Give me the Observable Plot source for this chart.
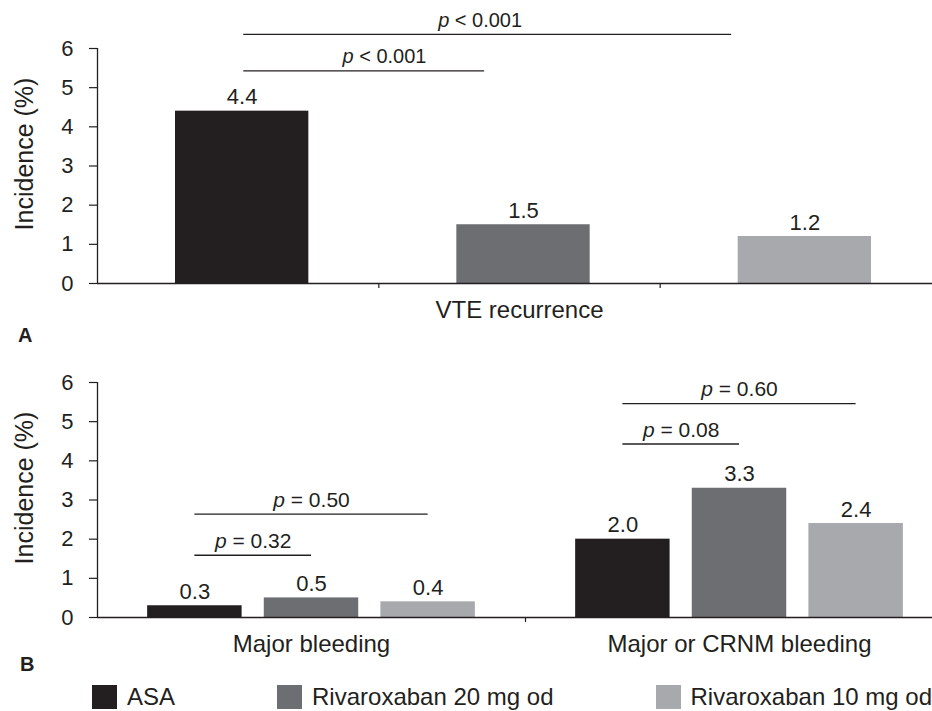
<!DOCTYPE html>
<html>
<head>
<meta charset="utf-8">
<script src="https://cdn.jsdelivr.net/npm/d3@7"></script>
<script src="https://cdn.jsdelivr.net/npm/@observablehq/plot@0.6"></script>
<style>
  html, body { margin: 0; padding: 0; background: #fff; }
  body { font-family: "Liberation Sans", Arial, Helvetica, sans-serif; color: #231f20; }
  #wrap { position: relative; width: 932px; height: 711px; overflow: hidden; }
  .panel { position: absolute; left: 0; }
  .tag { position: absolute; font-weight: bold; font-size: 20px; line-height: 20px; }
  #legend { position: absolute; top: 685px; left: 92px; display: flex; align-items: center; font-size: 24px; line-height: 24px; white-space: nowrap; }
  #legend .item { display: flex; align-items: center; margin-right: 102px; }
  #legend .sw { width: 25px; height: 24px; margin-right: 10px; }
</style>
</head>
<body>
<div id="wrap"></div>
<script>
// ---------- data ----------
const series = ["ASA", "Rivaroxaban 20 mg od", "Rivaroxaban 10 mg od"];
const seriesColors = ["#231f20", "#6d6e71", "#a7a9ac"];

const panelACategory = "VTE recurrence";
const panelAValues = [4.4, 1.5, 1.2];

const panelBCategories = ["Major bleeding", "Major or CRNM bleeding"];
const panelBAsa = [0.3, 2.0];
const panelBRiva20 = [0.5, 3.3];
const panelBRiva10 = [0.4, 2.4];

const yTicks = [0, 1, 2, 3, 4, 5, 6];
const yLabel = "Incidence (%)";

const pValuesA = [
  {from: "ASA", to: "Rivaroxaban 20 mg od", label: "p < 0.001"},
  {from: "ASA", to: "Rivaroxaban 10 mg od", label: "p < 0.001"}
];
const pValuesB = [
  {group: "Major bleeding", from: "ASA", to: "Rivaroxaban 20 mg od", label: "p = 0.32"},
  {group: "Major bleeding", from: "ASA", to: "Rivaroxaban 10 mg od", label: "p = 0.50"},
  {group: "Major or CRNM bleeding", from: "ASA", to: "Rivaroxaban 20 mg od", label: "p = 0.08"},
  {group: "Major or CRNM bleeding", from: "ASA", to: "Rivaroxaban 10 mg od", label: "p = 0.60"}
];

// ---------- annotation layout (not data) ----------
const bracketLayoutA = [
  {level: 5.43, start: 0.52, end: 1.376, labelAt: 1.02},
  {level: 6.36, start: 0.52, end: 2.254, labelAt: 1.36}
];
const bracketLevelsB = [1.59, 2.64, 4.43, 5.46];

// ---------- styling ----------
const ink = "#231f20";
const font = '"Liberation Sans", Arial, Helvetica, sans-serif';
const insetL = 78, insetR = 70;
const fmt = d3.format(".1f");

const baseStyle = {fontFamily: font, fontSize: "20px", color: ink, background: "transparent", overflow: "visible"};

function commonMarks() {
  return [
    Plot.axisY({ticks: yTicks, tickFormat: d3.format("d"), tickSize: 8, tickPadding: 16, label: null, fontSize: 22, stroke: ink, strokeWidth: 1.2}),
    Plot.ruleX([0], {y1: 0, y2: 6, stroke: ink, strokeWidth: 1.3}),
    Plot.ruleY([0], {stroke: ink, strokeWidth: 1.3}),
    Plot.text([yLabel], {frameAnchor: "left", textAnchor: "middle", rotate: -90, dx: -73, dy: -12, fontSize: 25, lineAnchor: "middle", fill: ink})
  ];
}

// ---------- Panel A ----------
const dataA = series.map((s, i) => ({series: s, value: panelAValues[i], slot: i}));
const bracketsA = pValuesA.map((p, i) => ({...p, ...bracketLayoutA[i]}));

const plotA = Plot.plot({
  width: 932, height: 325, marginTop: 48, marginBottom: 42, marginLeft: 97, marginRight: 0,
  x: {type: "linear", domain: [0, series.length], range: [97, 941]},
  y: {domain: [0, 6]},
  color: {domain: series, range: seriesColors},
  style: baseStyle,
  marks: [
    Plot.rect(dataA, {x1: "slot", x2: d => d.slot + 1, y1: 0, y2: "value", fill: "series", insetLeft: insetL, insetRight: insetR}),
    Plot.text(dataA, {x: d => d.slot + 0.5, y: "value", text: d => fmt(d.value), dx: (insetL - insetR) / 2, dy: -14, lineAnchor: "middle", fontSize: 22, fill: ink}),
    Plot.axisX({ticks: [1, 2], tickSize: 5, tickFormat: () => "", label: null, stroke: ink, strokeWidth: 1.2}),
    Plot.text([panelACategory], {x: () => series.length / 2, frameAnchor: "bottom", dy: 27, lineAnchor: "middle", fontSize: 24, fill: ink}),
    Plot.ruleY(bracketsA, {y: "level", x1: "start", x2: "end", stroke: ink, strokeWidth: 1.3}),
    Plot.text(bracketsA, {x: "labelAt", y: "level", text: "label", dy: -14, lineAnchor: "middle", fontSize: 20, fill: ink}),
    ...commonMarks()
  ]
});

// ---------- Panel B ----------
const inner = Plot.scale({x: {type: "band", domain: series, range: [0, 1], paddingInner: 0.19, paddingOuter: 0.43}});
const bw = inner.bandwidth;
const valuesB = [panelBAsa, panelBRiva20, panelBRiva10];
const dataB = [];
panelBCategories.forEach((g, gi) => series.forEach((s, si) => dataB.push({group: g, gi, series: s, value: valuesB[si][gi]})));
const left = d => d.gi + inner.apply(d.series);
const centerOf = (g, s) => panelBCategories.indexOf(g) + inner.apply(s) + bw / 2;
const bracketsB = pValuesB.map((p, i) => ({...p, level: bracketLevelsB[i]}));

const plotB = Plot.plot({
  width: 932, height: 325, marginTop: 48, marginBottom: 42, marginLeft: 97, marginRight: 0,
  x: {type: "linear", domain: [0, panelBCategories.length], range: [97, 953]},
  y: {domain: [0, 6]},
  color: {domain: series, range: seriesColors},
  style: baseStyle,
  marks: [
    Plot.rect(dataB, {x1: left, x2: d => left(d) + bw, y1: 0, y2: "value", fill: "series"}),
    Plot.text(dataB, {x: d => left(d) + bw / 2, y: "value", text: d => fmt(d.value), dy: -14, lineAnchor: "middle", fontSize: 22, fill: ink}),
    Plot.axisX({ticks: [1], tickSize: 5, tickFormat: () => "", label: null, stroke: ink, strokeWidth: 1.2}),
    Plot.text(panelBCategories, {x: (d, i) => i + 0.5, frameAnchor: "bottom", dy: 27, lineAnchor: "middle", fontSize: 24, fill: ink}),
    Plot.ruleY(bracketsB, {y: "level", x1: d => centerOf(d.group, d.from), x2: d => centerOf(d.group, d.to), stroke: ink, strokeWidth: 1.3}),
    Plot.text(bracketsB, {x: d => (centerOf(d.group, d.from) + centerOf(d.group, d.to)) / 2, y: "level", text: "label", dy: -14, lineAnchor: "middle", fontSize: 21, fill: ink}),
    ...commonMarks()
  ]
});

// italic "p" in p-value labels
function italicP(svg) {
  d3.select(svg).selectAll("text").each(function () {
    const t = this.textContent;
    if (/^p [<=]/.test(t) && this.children.length === 0) {
      this.textContent = "";
      const sel = d3.select(this);
      sel.append("tspan").attr("font-style", "italic").text("p");
      sel.append("tspan").text(t.slice(1));
    }
  });
}
italicP(plotA);
italicP(plotB);

const wrap = document.getElementById("wrap");
plotA.classList.add("panel"); plotA.style.top = "0px";
plotB.classList.add("panel"); plotB.style.top = "334px";
wrap.appendChild(plotA);
wrap.appendChild(plotB);

const tagA = document.createElement("div"); tagA.className = "tag"; tagA.textContent = "A";
tagA.style.left = "18px"; tagA.style.top = "325px";
const tagB = document.createElement("div"); tagB.className = "tag"; tagB.textContent = "B";
tagB.style.left = "20px"; tagB.style.top = "654px";
wrap.appendChild(tagA); wrap.appendChild(tagB);

const legend = document.createElement("div"); legend.id = "legend";
series.forEach((s, i) => {
  const item = document.createElement("div"); item.className = "item";
  const sw = document.createElement("div"); sw.className = "sw"; sw.style.background = seriesColors[i];
  const lb = document.createElement("span"); lb.textContent = s;
  item.appendChild(sw); item.appendChild(lb);
  legend.appendChild(item);
});
wrap.appendChild(legend);
</script>
</body>
</html>
